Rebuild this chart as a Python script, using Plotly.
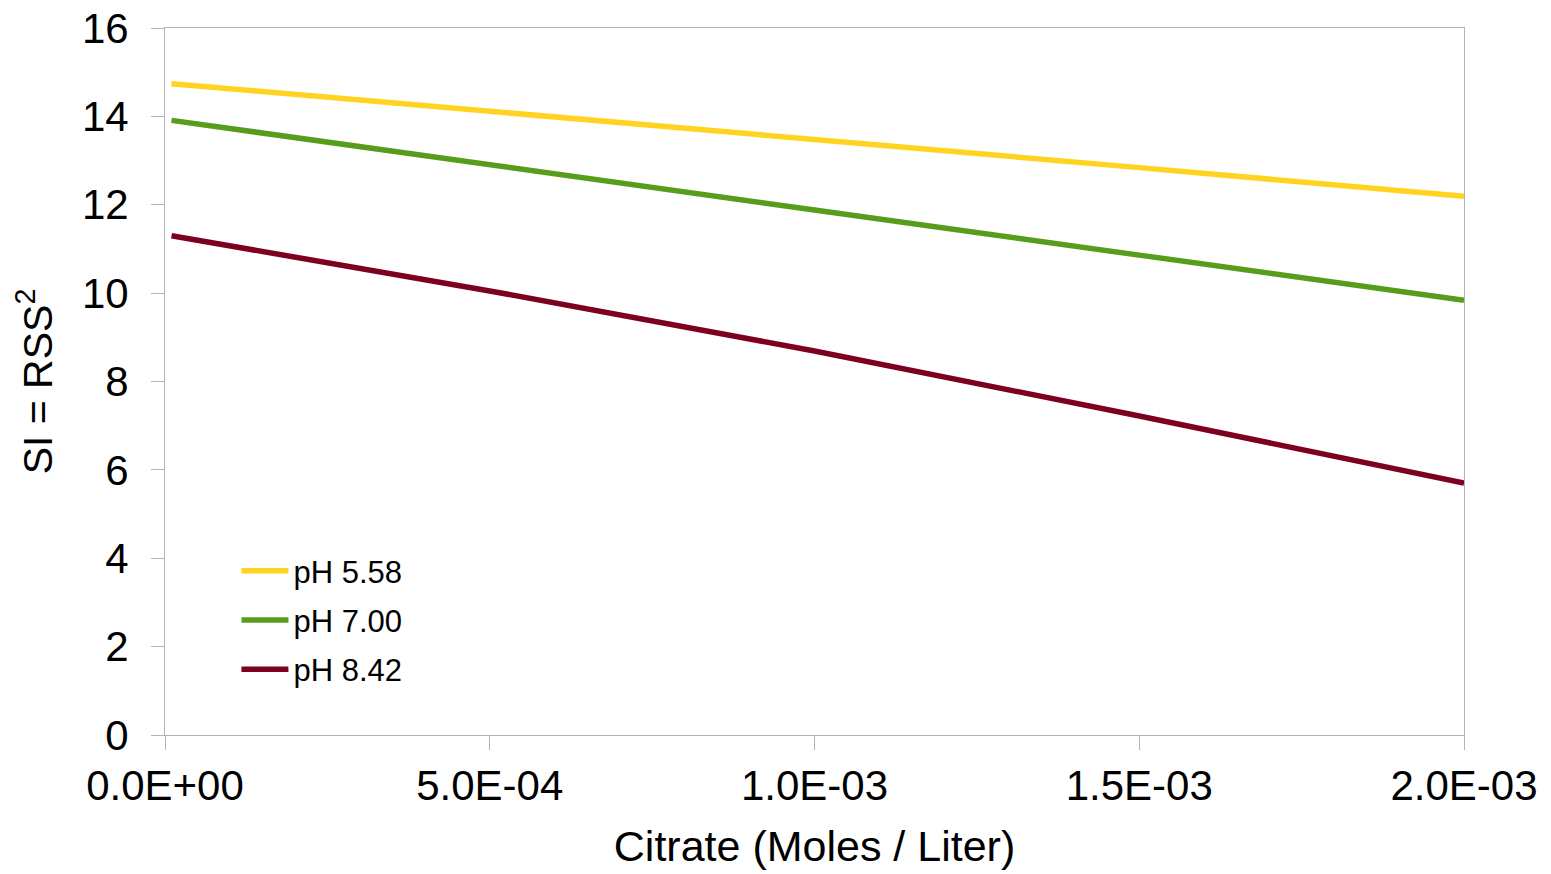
import plotly.graph_objects as go

citrate = [1e-5, 5e-4, 1e-3, 1.5e-3, 2e-3]
si_ph558 = [14.74, 14.12, 13.46, 12.84, 12.19]
si_ph700 = [13.91, 12.92, 11.88, 10.86, 9.84]
si_ph842 = [11.30, 10.05, 8.69, 7.22, 5.70]
series_names = ["pH 5.58", "pH 7.00", "pH 8.42"]
series_colors = ["#FFD320", "#579D1C", "#7E0021"]
x_tickvals = [0, 5e-4, 1e-3, 1.5e-3, 2e-3]
x_ticktext = ["0.0E+00", "5.0E-04", "1.0E-03", "1.5E-03", "2.0E-03"]
y_tickvals = [0, 2, 4, 6, 8, 10, 12, 14, 16]

fig = go.Figure()
for i, (name, ys, c) in enumerate(zip(series_names, [si_ph558, si_ph700, si_ph842], series_colors)):
    fig.add_trace(go.Scatter(x=citrate, y=ys, mode="lines", name=name,
                             legendgroup=f"g{i}",
                             line=dict(color=c, width=5.5)))

axis_grey = "#b3b3b3"
fig.update_layout(
    width=1551, height=874,
    margin=dict(l=165, r=87, t=28, b=139),
    paper_bgcolor="white", plot_bgcolor="white",
    font=dict(family="Liberation Sans, Arial, sans-serif", size=42, color="black"),
    showlegend=True,
    legend=dict(x=0.055, y=0.27, xanchor="left", yanchor="top",
                font=dict(size=31), itemwidth=47, tracegroupgap=6,
                bgcolor="rgba(0,0,0,0)"),
    xaxis=dict(range=[0, 2e-3], tickvals=x_tickvals, ticktext=x_ticktext,
               showgrid=False, zeroline=False, showline=True, linecolor=axis_grey,
               linewidth=1, mirror=True, ticks="outside", ticklen=14, tickcolor=axis_grey,
               automargin=False,
               title=dict(text="Citrate (Moles / Liter)", standoff=22, font=dict(size=43))),
    yaxis=dict(range=[0, 16], tickvals=y_tickvals,
               showgrid=False, zeroline=False, showline=True, linecolor=axis_grey,
               linewidth=1, mirror=True, ticks="outside", ticklen=13, tickcolor=axis_grey,
               automargin=False, ticklabelstandoff=14,
               title=dict(text="SI = RSS<sup>2</sup>", standoff=16, font=dict(size=41))),
)

fig.write_html("out.html")
